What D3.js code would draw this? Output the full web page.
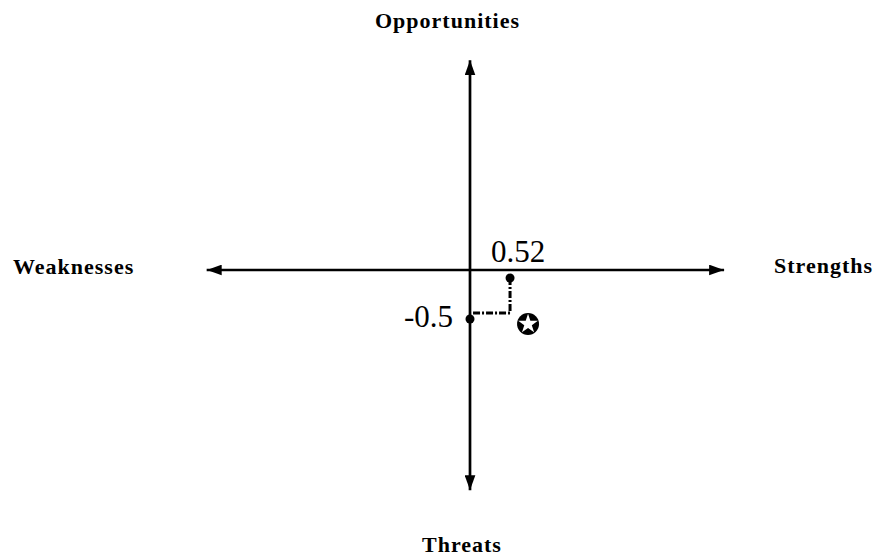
<!DOCTYPE html>
<html>
<head>
<meta charset="utf-8">
<script src="https://cdn.jsdelivr.net/npm/d3@7"></script>
<style>
  html, body { margin: 0; padding: 0; background: #fff; }
  svg { display: block; }
</style>
</head>
<body>
<svg id="chart" width="873" height="556"></svg>
<script>
// SWOT strategic position: quadrant labels and the resulting coordinate
const quadrantLabels = ["Opportunities", "Strengths", "Threats", "Weaknesses"];
const axisExtentX = [-3.42, 3.3];
const axisExtentY = [-2.56, 2.44];
const pointX = [0.52];
const pointY = [-0.5];

const svg = d3.select("#chart");
const cx = 470, cy = 270;

// Linear scales centred on the origin
const x = d3.scaleLinear().domain([0, 1]).range([cx, cx + 77]);
const y = d3.scaleLinear().domain([0, 1]).range([cy, cy - 86]);

// Arrowhead marker
const defs = svg.append("defs");
defs.append("marker")
  .attr("id", "arrow")
  .attr("viewBox", "0 0 14 10")
  .attr("refX", 14).attr("refY", 5)
  .attr("markerUnits", "userSpaceOnUse")
  .attr("markerWidth", 15).attr("markerHeight", 11)
  .attr("orient", "auto-start-reverse")
  .append("path")
  .attr("d", "M0,0 L14,5 L0,10 Z")
  .attr("fill", "#000");

// Horizontal axis (Weaknesses ↔ Strengths)
svg.append("line")
  .attr("x1", x(axisExtentX[0])).attr("x2", x(axisExtentX[1]))
  .attr("y1", y(0)).attr("y2", y(0))
  .attr("stroke", "#000").attr("stroke-width", 2.7)
  .attr("marker-start", "url(#arrow)")
  .attr("marker-end", "url(#arrow)");

// Vertical axis (Threats ↔ Opportunities)
svg.append("line")
  .attr("x1", x(0)).attr("x2", x(0))
  .attr("y1", y(axisExtentY[0])).attr("y2", y(axisExtentY[1]))
  .attr("stroke", "#000").attr("stroke-width", 2.7)
  .attr("marker-start", "url(#arrow)")
  .attr("marker-end", "url(#arrow)");

// Quadrant labels
const labelFont = "'Liberation Serif', 'Times New Roman', serif";
const labelPos = [
  { x: 375, y: 28 },
  { x: 774, y: 273 },
  { x: 422, y: 552 },
  { x: 13, y: 274 }
];
svg.selectAll("text.quad")
  .data(quadrantLabels)
  .join("text")
  .attr("class", "quad")
  .attr("x", (d, i) => labelPos[i].x)
  .attr("y", (d, i) => labelPos[i].y)
  .attr("font-family", labelFont)
  .attr("font-weight", "bold")
  .attr("font-size", 22)
  .attr("letter-spacing", 1)
  .text(d => d);

// Dash-dot projection lines from the position to each axis
const px = x(pointX[0]), py = y(pointY[0]);
const projection = d3.line()([[x(pointX[0]), y(0) + 8], [px, py], [x(0), py]]);
svg.append("path")
  .attr("d", projection)
  .attr("fill", "none")
  .attr("stroke", "#000")
  .attr("stroke-width", 3)
  .attr("stroke-dasharray", "7,2,2,2");

// Projection end dots
svg.append("circle").attr("cx", px).attr("cy", y(0) + 8).attr("r", 4.5).attr("fill", "#000");
svg.append("circle").attr("cx", x(0)).attr("cy", py + 6).attr("r", 4.5).attr("fill", "#000");

// Value labels
const valueFont = "'Liberation Serif', 'DejaVu Serif', serif";
svg.append("text")
  .attr("x", px - 19).attr("y", y(0) - 8)
  .attr("font-family", valueFont).attr("font-size", 31)
  .text(d3.format(".2f")(pointX[0]));
svg.append("text")
  .attr("x", x(0) - 17).attr("y", py + 14)
  .attr("text-anchor", "end")
  .attr("font-family", valueFont).attr("font-size", 31)
  .text(String(pointY[0]));

// Position marker: star in a black disc
const sx = px + 18, sy = py + 11;
svg.append("circle").attr("cx", sx).attr("cy", sy).attr("r", 11).attr("fill", "#000");
svg.append("path")
  .attr("transform", `translate(${sx},${sy})`)
  .attr("d", d3.symbol(d3.symbolStar, 120)())
  .attr("fill", "#fff");
</script>
</body>
</html>
